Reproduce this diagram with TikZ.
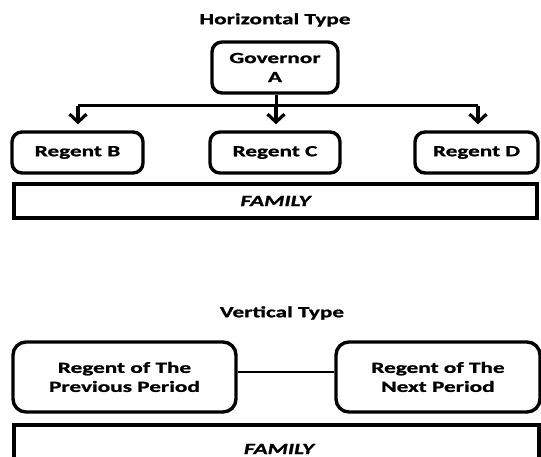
\documentclass[tikz,border=0pt]{standalone}
\usepackage{fontspec}
\setmainfont{Carlito}[FakeStretch=1.5,BoldFeatures={FakeBold=1.2},BoldItalicFeatures={FakeBold=1.2}]
\usetikzlibrary{arrows.meta}
\begin{document}
\begin{tikzpicture}[x=1pt,y=1pt,
  font=\fontsize{15.5}{19}\selectfont\bfseries,
  rbox/.style={draw=black,line width=3.4pt,rounded corners=10pt,minimum width=#1,inner sep=0pt,align=center},
  fambox/.style={draw=black,line width=3.4pt,minimum width=523pt,minimum height=34pt,inner sep=0pt},
  title/.style={inner sep=0pt},
  link/.style={line width=3pt},
  arr/.style={line width=3.2pt,-{Straight Barb[length=8pt,width=17pt]}}
]
\useasboundingbox (0,0) rectangle (541,457);
\clip (0,0) rectangle (541,457);
% Horizontal type
\node[title] (t1) at (275,437) {Horizontal Type};
\node[rbox=126pt,minimum height=51pt] (gov) at (275,389.5) {Governor\\A};
\node[rbox=131pt,minimum height=41pt] (rb) at (77.5,304.5) {Regent B};
\node[rbox=130pt,minimum height=41pt] (rc) at (275,304.5) {Regent C};
\node[rbox=123pt,minimum height=41pt] (rd) at (476.5,304.5) {Regent D};
\node[fambox] (fam1) at (275.5,256) {\itshape FAMILY};
\coordinate (hl) at (78,351);
\coordinate (hr) at (478,351);
\coordinate (hm) at (276,351);
\draw[link] (gov.south -| hm) -- (hm);
\draw[link] (hl) -- (hr);
\draw[arr] (hl) -- ([yshift=6pt]rb.north -| hl);
\draw[arr] (hm) -- ([yshift=6pt]rc.north -| hm);
\draw[arr] (hr) -- ([yshift=6pt]rd.north -| hr);
% Vertical type
\node[title] (t2) at (282,144) {Vertical Type};
\node[rbox=223pt,minimum height=70pt,rounded corners=13pt] (prev) at (124.5,80) {Regent of The\\Previous Period};
\node[rbox=204pt,minimum height=70pt,rounded corners=13pt] (next) at (438,80) {Regent of The\\Next Period};
\draw[line width=2.4pt] ([yshift=5pt]prev.east) -- ([yshift=5pt]next.west);
\node[draw=black,line width=3.4pt,minimum width=525pt,minimum height=60pt,inner sep=0pt] (fam2) at (276.5,2) {};
\node[title] (fam2t) at (279,8) {\itshape FAMILY};
\end{tikzpicture}
\end{document}
